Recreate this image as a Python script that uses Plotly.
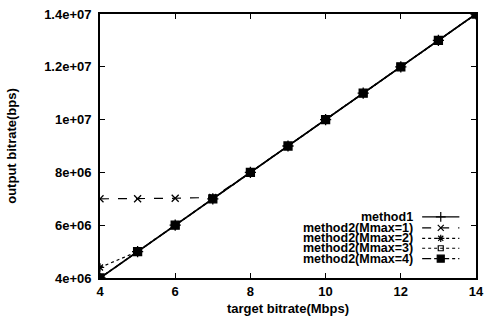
import plotly.graph_objects as go

target = [4, 5, 6, 7, 8, 9, 10, 11, 12, 13, 14]
method1 = [4e6, 5e6, 6e6, 7e6, 8e6, 9e6, 1e7, 1.1e7, 1.2e7, 1.3e7, 1.4e7]
m2_1 = [7e6, 7e6, 7.02e6, 7.05e6, 8e6, 9e6, 1e7, 1.1e7, 1.2e7, 1.3e7, 1.4e7]
m2_2 = [4.4e6, 5e6, 6e6, 7e6, 8e6, 9e6, 1e7, 1.1e7, 1.2e7, 1.3e7, 1.4e7]
m2_3 = [4e6, 5e6, 6e6, 7e6, 8e6, 9e6, 1e7, 1.1e7, 1.2e7, 1.3e7, 1.4e7]
m2_4 = [4e6, 5e6, 6e6, 7e6, 8e6, 9e6, 1e7, 1.1e7, 1.2e7, 1.3e7, 1.4e7]

names = ["method1", "method2(Mmax=1)", "method2(Mmax=2)", "method2(Mmax=3)", "method2(Mmax=4)"]
series = [method1, m2_1, m2_2, m2_3, m2_4]
dashes = ["solid", "dash", "dot", "dot", "dashdot"]
symbols = ["cross-thin", "x-thin", "asterisk", "square-open", "square"]
sizes = [8, 7, 7, 6, 8]

yticks = [4e6, 6e6, 8e6, 1e7, 1.2e7, 1.4e7]
yticklabels = ["4e+06", "6e+06", "8e+06", "1e+07", "1.2e+07", "1.4e+07"]
xticks = [4, 6, 8, 10, 12, 14]

FAM = "Liberation Sans"
font = dict(family=FAM, size=13, color="black", weight="bold")
lfont = dict(family=FAM, size=12.5, color="black", weight="bold")

fig = go.Figure()
for name, ys, d, s, sz in zip(names, series, dashes, symbols, sizes):
    fig.add_trace(go.Scatter(
        x=target, y=ys, mode="lines+markers", name=name, showlegend=False,
        line=dict(color="black", width=1.8 if d == "solid" else 1.2, dash=d),
        marker=dict(symbol=s, size=sz, color="black",
                    line=dict(color="black", width=1.3)),
    ))

# custom legend (text left of sample, like gnuplot)
row_y = [217.5, 228.5, 239, 249, 259.5]
for name, d, s, sz, ry in zip(names, dashes, symbols, sizes, row_y):
    fig.add_trace(go.Scatter(
        x=[429, 467], y=[ry, ry], mode="lines", showlegend=False,
        xaxis="x2", yaxis="y2",
        line=dict(color="black", width=1.2, dash=d),
    ))
    fig.add_trace(go.Scatter(
        x=[448], y=[ry], mode="markers", showlegend=False,
        xaxis="x2", yaxis="y2",
        marker=dict(symbol=s, size=sz - 1, color="black",
                    line=dict(color="black", width=1.2)),
    ))
    fig.add_annotation(x=421, y=ry, xref="x2", yref="y2", text=name,
                       showarrow=False, xanchor="right", yanchor="middle",
                       font=lfont, borderpad=0)

axis_common = dict(showgrid=False, zeroline=False, showline=True, linecolor="black",
                   linewidth=1.8, mirror="ticks", ticks="inside", ticklen=5,
                   tickcolor="black", tickwidth=1.3, tickfont=font)

fig.update_layout(
    width=491, height=321,
    margin=dict(l=100, r=7, t=13, b=42),
    paper_bgcolor="white", plot_bgcolor="white",
    font=font,
    xaxis=dict(range=[4, 14], tickvals=xticks, ticktext=[str(v) for v in xticks],
               title=dict(text="target bitrate(Mbps)", font=font, standoff=6),
               **axis_common),
    yaxis=dict(range=[4e6, 1.4e7], tickvals=yticks, ticktext=yticklabels,
               ticklabelstandoff=4,
               title=dict(text="output bitrate(bps)", font=font, standoff=25),
               **axis_common),
    xaxis2=dict(range=[100, 484], overlaying="x", visible=False),
    yaxis2=dict(range=[279, 13], overlaying="y", visible=False),
)

fig.write_html("out.html")
